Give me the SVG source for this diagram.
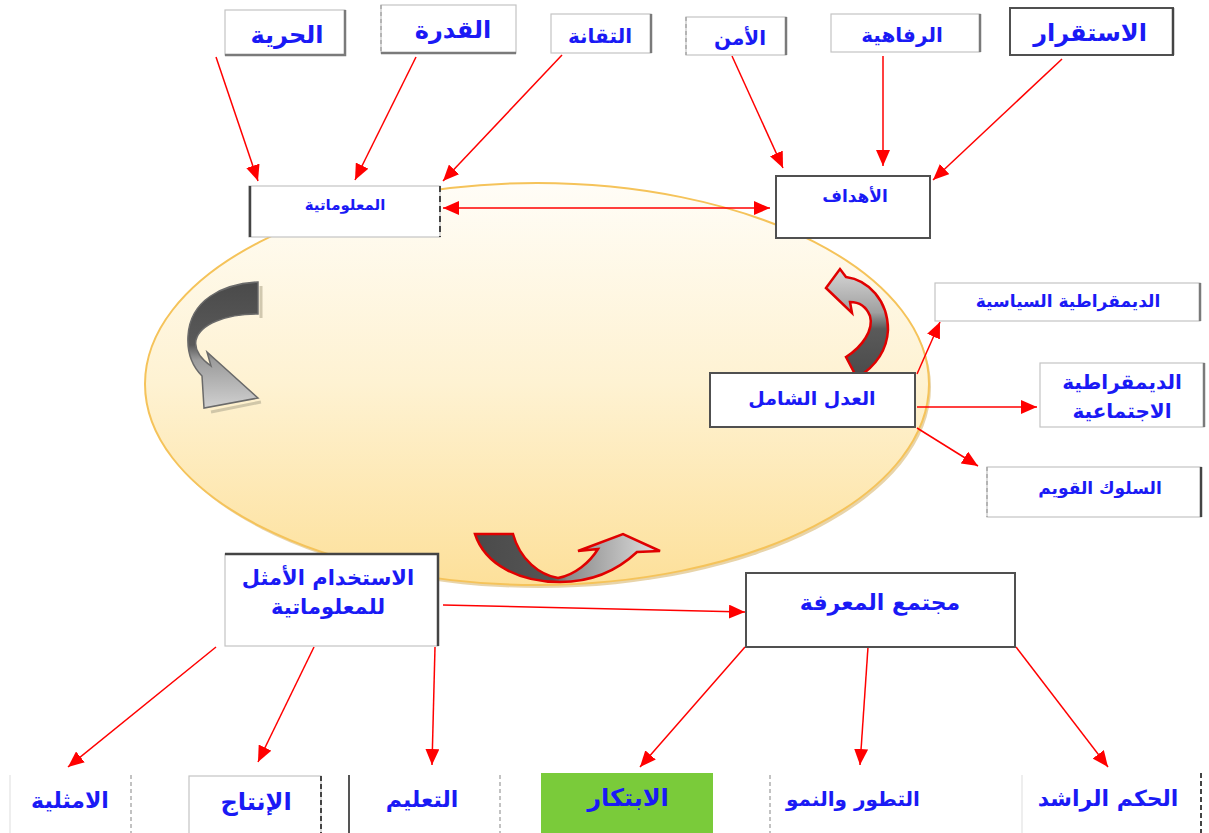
<svg xmlns="http://www.w3.org/2000/svg" width="1209" height="833" viewBox="0 0 1209 833">
<style>
.t{font-family:"DejaVu Sans","Noto Sans",sans-serif;font-weight:bold;fill:#1a1af5;text-anchor:middle;direction:rtl}
.bx{fill:#fff;stroke:#c4c4c4;stroke-width:1.2}
.bd{fill:#fff;stroke:#505050;stroke-width:2}
.sh{stroke:#7a7a7a;stroke-width:2.5;fill:none}
.dk{stroke:#444;stroke-width:2.5;fill:none}
.ds{stroke:#9a9a9a;stroke-width:1.2;stroke-dasharray:4 3;fill:none}
.cn line{stroke:#ff0000;stroke-width:1.5;marker-end:url(#ah)}
.ca{stroke:#e00000;stroke-width:2.5}
</style>
<defs>
<linearGradient id="eg" x1="0" y1="0" x2="0" y2="1">
<stop offset="0" stop-color="#fffdf7"/>
<stop offset="0.5" stop-color="#fef2d2"/>
<stop offset="1" stop-color="#fde09a"/>
</linearGradient>
<linearGradient id="gDown" x1="0" y1="0" x2="0" y2="1">
<stop offset="0" stop-color="#4a4a4a"/>
<stop offset="0.5" stop-color="#5a5a5a"/>
<stop offset="0.62" stop-color="#9c9c9c"/>
<stop offset="1" stop-color="#d0d0d0"/>
</linearGradient>
<linearGradient id="gUp" x1="0" y1="1" x2="0" y2="0">
<stop offset="0" stop-color="#4a4a4a"/>
<stop offset="0.45" stop-color="#5a5a5a"/>
<stop offset="0.6" stop-color="#a0a0a0"/>
<stop offset="1" stop-color="#d6d6d6"/>
</linearGradient>
<linearGradient id="gRight" x1="0" y1="0" x2="1" y2="0">
<stop offset="0" stop-color="#4a4a4a"/>
<stop offset="0.42" stop-color="#555"/>
<stop offset="0.5" stop-color="#8a8a8a"/>
<stop offset="1" stop-color="#e0e0e0"/>
</linearGradient>
<marker id="ah" markerUnits="userSpaceOnUse" markerWidth="16" markerHeight="14" refX="16" refY="7" orient="auto-start-reverse">
<path d="M0,0 L16,7 L0,14 Z" fill="#ff0000"/>
</marker>
</defs>
<rect width="1209" height="833" fill="#fff"/>

<g id="ellipse">
<ellipse cx="539" cy="387" rx="392" ry="201" fill="#d8b870" opacity="0.6"/>
<ellipse cx="537" cy="384" rx="392" ry="201" fill="url(#eg)" stroke="#f5c35a" stroke-width="2"/>
</g>

<g id="curved-arrows">
<path d="M261,286 L261,318 M211,412 L261,402" stroke="#bdb59a" stroke-width="3" fill="none" opacity="0.7"/>
<path d="M258,282 C222,284 190,300 188,336 C187,352 192,366 202,376 L204,408 L258,398 L207,352 L211,366 C200,358 194,350 196,340 C200,324 226,314 258,314 Z" fill="url(#gDown)" stroke="#6a6a6a" stroke-width="1.5"/>
<path d="M826,288 L840,269 L846,277 C868,280 888,300 888,330 C887,350 876,366 857,378 L846,357 C862,347 874,330 870,316 C866,306 858,302 850,302 L852,313 Z" fill="url(#gUp)" class="ca"/>
<path d="M475,534 L513,534 C520,560 540,575 558,578 C575,575 590,562 598,549 L578,551 L623,534 L660,551 L637,552 C620,568 595,582 560,582 C520,582 485,565 475,534 Z" fill="url(#gRight)" class="ca"/>
</g>

<g id="connectors" class="cn">
<line x1="216" y1="57" x2="258" y2="181"/>
<line x1="416" y1="57" x2="355" y2="180"/>
<line x1="562" y1="55" x2="443" y2="181"/>
<line x1="732" y1="56" x2="783" y2="168"/>
<line x1="883" y1="56" x2="883" y2="166"/>
<line x1="1062" y1="59" x2="933" y2="180"/>
<line x1="443" y1="208" x2="770" y2="208" style="marker-start:url(#ah)"/>
<line x1="917" y1="374" x2="940" y2="322"/>
<line x1="917" y1="407" x2="1037" y2="407"/>
<line x1="917" y1="428" x2="978" y2="466"/>
<line x1="443" y1="605" x2="745" y2="612"/>
<line x1="216" y1="647" x2="68" y2="767"/>
<line x1="314" y1="647" x2="258" y2="762"/>
<line x1="435" y1="647" x2="432" y2="765"/>
<line x1="745" y1="647" x2="640" y2="767"/>
<line x1="868" y1="647" x2="860" y2="765"/>
<line x1="1016" y1="647" x2="1108" y2="767"/>
</g>

<g id="n-hurriya"><rect class="bx" x="225" y="10" width="120" height="45"/><path class="sh" d="M345,10 V55 H225"/><text class="t" x="287" y="43" font-size="24">الحرية</text></g>
<g id="n-qudra"><rect class="bx" x="381" y="5" width="135" height="48"/><path class="sh" d="M381,53 H516"/><path class="ds" d="M381,5 V53"/><text class="t" x="453" y="38" font-size="24">القدرة</text></g>
<g id="n-taqana"><rect class="bx" x="551" y="14" width="100" height="39"/><path class="sh" d="M651,14 V53"/><text class="t" x="600" y="43" font-size="20">التقانة</text></g>
<g id="n-amn"><rect class="bx" x="686" y="17" width="100" height="38"/><path class="sh" d="M786,17 V55"/><path class="ds" d="M686,17 V55"/><text class="t" x="740" y="45" font-size="20">الأمن</text></g>
<g id="n-rafahiya"><rect class="bx" x="831" y="14" width="149" height="38"/><path class="sh" d="M980,14 V52"/><text class="t" x="902" y="42" font-size="20">الرفاهية</text></g>
<g id="n-istiqrar"><rect class="bd" x="1010" y="8" width="163" height="47"/><path class="dk" d="M1173,8 V55"/><text class="t" x="1090" y="41" font-size="24">الاستقرار</text></g>

<g id="n-maalumatiya"><rect class="bx" x="249" y="186" width="191" height="51"/><path class="dk" d="M250,186 V237"/><path d="M440,186 V237" stroke="#444" stroke-width="2" stroke-dasharray="6 4"/><text class="t" x="345" y="210" font-size="15">المعلوماتية</text></g>
<g id="n-ahdaf"><rect class="bd" x="776" y="176" width="154" height="62"/><text class="t" x="855" y="202" font-size="17">الأهداف</text></g>

<g id="n-adl"><rect class="bd" x="710" y="373" width="205" height="54"/><text class="t" x="812" y="405" font-size="19">العدل الشامل</text></g>
<g id="n-dimsiyasiya"><rect class="bx" x="935" y="283" width="265" height="38"/><path class="sh" d="M1200,283 V321"/><text class="t" x="1068" y="307" font-size="17">الديمقراطية السياسية</text></g>
<g id="n-dimijtima"><rect class="bx" x="1040" y="363" width="164" height="64"/><path class="sh" d="M1204,363 V427"/><text class="t" x="1122" y="389" font-size="20">الديمقراطية</text><text class="t" x="1122" y="418" font-size="20">الاجتماعية</text></g>
<g id="n-suluk"><rect class="bx" x="987" y="467" width="214" height="50"/><path class="dk" d="M1201,467 V517"/><path class="ds" d="M987,467 V517"/><text class="t" x="1100" y="494" font-size="17">السلوك القويم</text></g>

<g id="n-istikhdam"><rect class="bx" x="225" y="554" width="213" height="92"/><path class="dk" d="M225,554 H438 V646"/><text class="t" x="328" y="585" font-size="21">الاستخدام الأمثل</text><text class="t" x="328" y="614" font-size="21">للمعلوماتية</text></g>
<g id="n-mujtama"><rect class="bd" x="746" y="573" width="269" height="74"/><text class="t" x="880" y="610" font-size="22">مجتمع المعرفة</text></g>

<g id="n-amthaliya"><path class="ds" d="M131,775 V833"/><path d="M10,775 V833" stroke="#ddd" stroke-width="1"/><text class="t" x="70" y="808" font-size="22">الامثلية</text></g>
<g id="n-intaj"><rect class="bx" x="189" y="776" width="132" height="60"/><path d="M321,776 V833" stroke="#444" stroke-width="2" stroke-dasharray="5 3"/><text class="t" x="256" y="810" font-size="24">الإنتاج</text></g>
<g id="n-taalim"><path d="M349,775 V833" stroke="#555" stroke-width="2"/><path class="ds" d="M500,775 V833"/><text class="t" x="422" y="807" font-size="22">التعليم</text></g>
<g id="n-ibtikar"><rect x="541" y="773" width="172" height="62" fill="#7acb3a"/><text class="t" x="628" y="806" font-size="24">الابتكار</text></g>
<g id="n-tatawwur"><path class="ds" d="M770,775 V833"/><path d="M1022,775 V833" stroke="#ddd" stroke-width="1"/><text class="t" x="853" y="806" font-size="20">التطور والنمو</text></g>
<g id="n-hukm"><path d="M1201,773 V833" stroke="#444" stroke-width="2" stroke-dasharray="5 3"/><text class="t" x="1108" y="806" font-size="22">الحكم الراشد</text></g>
</svg>
